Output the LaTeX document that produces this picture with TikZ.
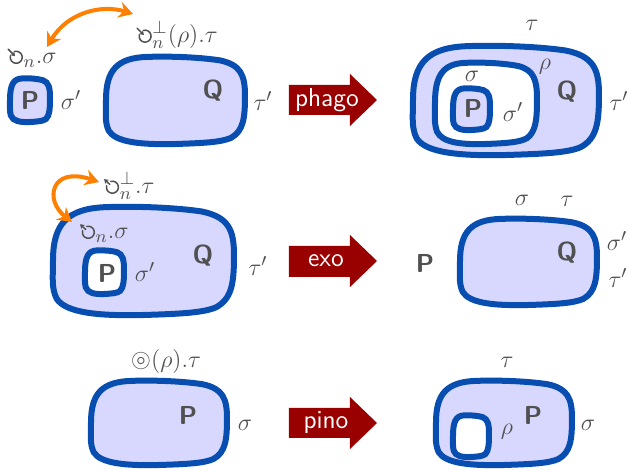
\documentclass[tikz,border=0pt]{standalone}
\usepackage{amssymb}
\usetikzlibrary{arrows.meta}

\definecolor{membraneblue}{RGB}{8,78,176}
\definecolor{membranefill}{RGB}{216,216,255}
\definecolor{reactred}{RGB}{153,0,0}
\definecolor{linkorange}{RGB}{255,128,0}
\definecolor{labelgray}{RGB}{80,80,80}

% membrane actions: phagocytosis (arrow in) and exocytosis (arrow out)
\newcommand\phagosym{\tikz[x=1pt,y=1pt,baseline=0pt,line width=0.75pt,line cap=round]{%
  \draw (0,3.3) ++(105:3.0) arc[start angle=105,end angle=-195,radius=3.0];
  \draw[-{Stealth[length=2.1pt,width=2.8pt]}] (-4.0,7.3) -- (-0.6,3.9);}}
\newcommand\exosym{\tikz[x=1pt,y=1pt,baseline=0pt,line width=0.75pt,line cap=round]{%
  \draw (0,3.3) ++(105:3.0) arc[start angle=105,end angle=-195,radius=3.0];
  \draw[-{Stealth[length=2.1pt,width=2.8pt]}] (-1.3,4.7) -- (-4.1,7.3);}}

% a slightly irregular rounded membrane inside the box (x1,y1)-(x2,y2)
\newcommand\membrane[5]{%
  \begin{scope}[shift={(#2,#3)},xscale={#4-#2},yscale={#5-#3}]
    \path[#1] (0,0.5)
      .. controls (0,0.16) and (0.08,0.02) .. (0.3,0.01)
      .. controls (0.5,0) and (0.7,0.02) .. (0.82,0.05)
      .. controls (0.97,0.1) and (1,0.22) .. (1,0.45)
      .. controls (1,0.7) and (0.99,0.85) .. (0.9,0.93)
      .. controls (0.83,0.98) and (0.7,0.99) .. (0.5,1)
      .. controls (0.25,1.01) and (0.07,0.98) .. (0.02,0.85)
      .. controls (-0.01,0.75) and (0,0.65) .. (0,0.5) -- cycle;
  \end{scope}}

\tikzset{
  membrane/.style={draw=membraneblue,line width=3pt,fill=membranefill},
  vesicle/.style={membrane,fill=white},
  lbl/.style={text=labelgray,inner sep=0pt,font=\fontsize{13}{15}\selectfont},
  proc/.style={lbl,font=\fontsize{13}{15}\selectfont\sffamily\bfseries},
  reaction/.style={fill=reactred},
  reactlabel/.style={text=white,inner sep=0pt,font=\fontsize{13}{15}\selectfont\sffamily},
  link/.style={draw=linkorange,line width=2pt,
    {Stealth[length=7pt,width=8pt]}-{Stealth[length=7pt,width=8pt]}},
}

\begin{document}
\begin{tikzpicture}[x=0.5pt,y=-0.5pt]
  \useasboundingbox (0,0) rectangle (629,470);
  \clip (0,0) rectangle (629,470);

  % ---------- phagocytosis ----------
  \membrane{membrane}{10}{78}{50}{122}
  \membrane{membrane}{106}{56}{245}{144}
  \node[proc] (p1) at (30,100) {P};
  \node[lbl] (s1) at (71,100) {$\sigma'$};
  \node[proc] (q1) at (213,91) {Q};
  \node[lbl] (t1) at (263,101) {$\tau'$};
  \node[lbl] (a1) at (32,58) {$\mathord{\phagosym}_n.\sigma$};
  \node[lbl] (b1) at (177,35) {$\mathord{\phagosym}^{\perp}_n(\rho).\tau$};
  \coordinate (l1a) at (47,47);
  \coordinate (l1b) at (133,14);
  \draw[link] (l1a) .. controls +(20,-34) and +(-32,-10) .. (l1b);

  \fill[reaction] (289,85) -- (350,85) -- (350,74) -- (377,100) -- (350,126)
    -- (350,115) -- (289,115) -- cycle;
  \node[reactlabel] (r1) at (327,100) {phago};

  \membrane{membrane}{413}{45}{599}{155}
  \membrane{vesicle}{435}{62}{537}{144}
  \membrane{membrane}{453}{88}{490}{130}
  \node[proc] (p2) at (473,108) {P};
  \node[lbl] (s2) at (513,112) {$\sigma'$};
  \node[lbl] (s3) at (472,76) {$\sigma$};
  \node[lbl] (r2) at (545,67) {$\rho$};
  \node[proc] (q2) at (567,92) {Q};
  \node[lbl] (t2) at (619,101) {$\tau'$};
  \node[lbl] (t3) at (532,25) {$\tau$};

  % ---------- exocytosis ----------
  \membrane{membrane}{53}{206}{234}{315}
  \membrane{vesicle}{85}{250}{124}{294}
  \node[proc] (p3) at (107,273) {P};
  \node[lbl] (s4) at (145,272) {$\sigma'$};
  \node[proc] (q3) at (203,256) {Q};
  \node[lbl] (t4) at (258,266) {$\tau'$};
  \node[lbl] (a2) at (104,233) {$\mathord{\exosym}_n.\sigma$};
  \node[lbl] (b2) at (129,186) {$\mathord{\exosym}^{\perp}_n.\tau$};
  \coordinate (l2a) at (72,222);
  \coordinate (l2b) at (99,182);
  \draw[link] (l2a) .. controls +(-28,-22) and +(-48,-16) .. (l2b);

  \fill[reaction] (289,246) -- (350,246) -- (350,235) -- (377,261) -- (350,287)
    -- (350,277) -- (289,277) -- cycle;
  \node[reactlabel] (r3) at (326,261) {exo};

  \node[proc] (p4) at (425,263) {P};
  \membrane{membrane}{460}{218}{597}{305}
  \node[proc] (q4) at (567,253) {Q};
  \node[lbl] (s5) at (522,200) {$\sigma$};
  \node[lbl] (t5) at (567,201) {$\tau$};
  \node[lbl] (s6) at (617,241) {$\sigma'$};
  \node[lbl] (t6) at (618,278) {$\tau'$};

  % ---------- pinocytosis ----------
  \membrane{membrane}{91}{380}{227}{465}
  \node[proc] (p5) at (188,415) {P};
  \node[lbl] (s7) at (245,425) {$\sigma$};
  \node[lbl] (c1) at (166,362) {$\circledcirc(\rho).\tau$};

  \fill[reaction] (289,408) -- (350,408) -- (350,397) -- (377,423) -- (350,449)
    -- (350,438) -- (289,438) -- cycle;
  \node[reactlabel] (r4) at (326,423) {pino};

  \membrane{membrane}{436}{380}{572}{465}
  \membrane{vesicle}{453}{415}{489}{457}
  \node[proc] (p6) at (533,415) {P};
  \node[lbl] (r5) at (507,432) {$\rho$};
  \node[lbl] (s8) at (588,425) {$\sigma$};
  \node[lbl] (t7) at (507,362) {$\tau$};
\end{tikzpicture}
\end{document}
